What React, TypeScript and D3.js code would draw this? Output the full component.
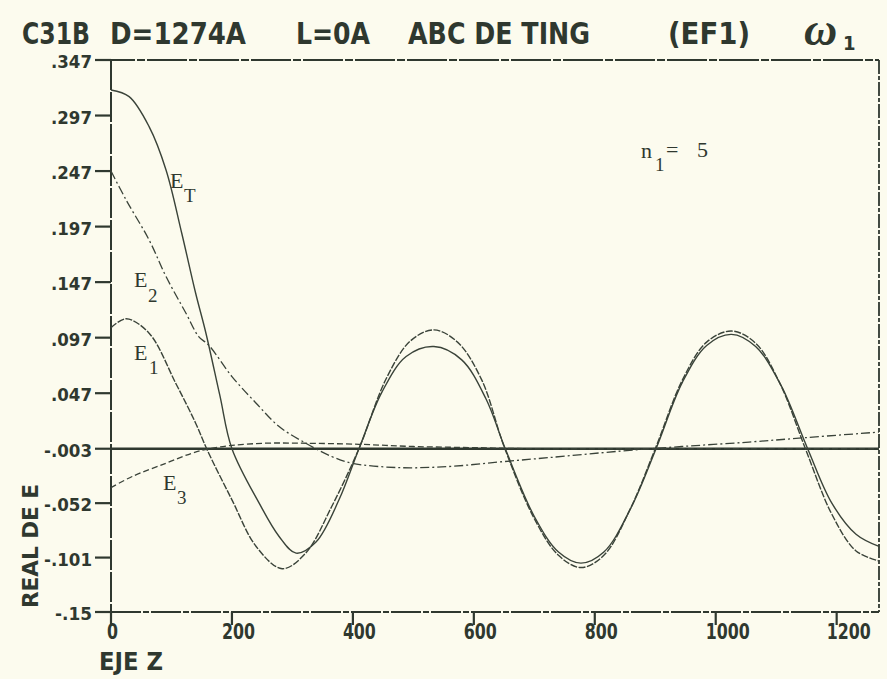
import React from "react";
import * as d3 from "d3";

// ---- data ----
const yTickValues = [0.347, 0.297, 0.247, 0.197, 0.147, 0.097, 0.047, -0.003, -0.052, -0.101, -0.15];
const yTickLabels = [".347", ".297", ".247", ".197", ".147", ".097", ".047", "-.003", "-.052", "-.101", "-.15"];
const xTickValues = [0, 200, 400, 600, 800, 1000, 1200];
const xTickLabels = ["0", "200", "400", "600", "800", "1000", "1200"];
const baselineValue = -0.003;

const eTz = [0, 30, 63, 91, 117, 140, 157, 180, 200, 245, 278, 306, 339, 377, 410, 448, 488, 534, 580, 620, 652, 700, 740, 777, 815, 860, 902, 945, 985, 1026, 1066, 1108, 1152, 1192, 1232, 1270];
const eTv = [0.320, 0.314, 0.287, 0.248, 0.191, 0.137, 0.101, 0.045, -0.003, -0.052, -0.082, -0.097, -0.087, -0.049, -0.003, 0.048, 0.080, 0.089, 0.077, 0.042, -0.003, -0.064, -0.096, -0.106, -0.096, -0.056, -0.002, 0.057, 0.090, 0.100, 0.089, 0.054, -0.003, -0.052, -0.080, -0.091];

const e1z = [0, 25, 63, 107, 140, 159, 200, 240, 283, 322, 365, 410, 455, 495, 534, 573, 613, 650, 700, 740, 777, 815, 858, 900, 945, 985, 1026, 1066, 1106, 1149, 1192, 1232, 1270];
const e1v = [0.106, 0.114, 0.101, 0.056, 0.020, -0.004, -0.049, -0.091, -0.111, -0.097, -0.055, -0.003, 0.060, 0.094, 0.104, 0.093, 0.059, -0.001, -0.066, -0.099, -0.110, -0.099, -0.058, -0.003, 0.059, 0.093, 0.103, 0.092, 0.056, -0.004, -0.062, -0.095, -0.104];

const e2z = [0, 25, 63, 91, 124, 145, 162, 200, 240, 278, 322, 365, 398, 476, 559, 641, 724, 845, 944, 1055, 1149, 1270];
const e2v = [0.247, 0.221, 0.185, 0.152, 0.119, 0.098, 0.090, 0.062, 0.038, 0.017, 0.002, -0.010, -0.016, -0.020, -0.019, -0.015, -0.011, -0.005, -0.001, 0.003, 0.007, 0.012];

const e3z = [0, 35, 91, 134, 162, 200, 256, 311, 410, 500, 600, 700, 800, 900, 1000, 1100, 1270];
const e3v = [-0.038, -0.028, -0.016, -0.007, -0.003, 0.000, 0.002, 0.002, 0.001, -0.001, -0.002, -0.003, -0.003, -0.003, -0.003, -0.003, -0.003];

const titleParts = ["C31B", "D=1274A", "L=0A", "ABC DE TING", "(EF1)"];

// ---- styling ----
const W = 887, H = 679;
const BG = "#fcfbee";
const INK = "#2f382f";
const LINE = "#3a4339";
const PLOT_FONT = "'DejaVu Sans Condensed', 'DejaVu Sans', sans-serif";
const SERIF = "'Liberation Serif', 'DejaVu Serif', serif";

export default function App() {
  const x = d3.scaleLinear().domain([0, 1270]).range([111, 879]);
  const y = d3.scaleLinear().domain([-0.15, 0.347]).range([612, 60]);
  const line = d3.line<[number, number]>().x(d => x(d[0])).y(d => y(d[1])).curve(d3.curveCatmullRom.alpha(0.5));
  const zip = (zs: number[], vs: number[]) => zs.map((z, i) => [z, vs[i]] as [number, number]);

  const series = [
    { d: zip(eTz, eTv), dash: "none", w: 1.4 },
    { d: zip(e1z, e1v), dash: "7,1.5", w: 1.4 },
    { d: zip(e2z, e2v), dash: "9,3,2,3", w: 1.3 },
    { d: zip(e3z, e3v), dash: "6,3", w: 1.3 },
  ];

  const titleLayout = [
    { x: 22, w: 68 },
    { x: 110, w: 136 },
    { x: 296, w: 74 },
    { x: 408, w: 182 },
    { x: 668, w: 82 },
  ];

  const x0 = x(0), x1 = x(1270), yTop = y(0.347), yBot = y(-0.15);

  return (
    <svg width={W} height={H} style={{ position: "absolute", left: 0, top: 0 }} xmlns="http://www.w3.org/2000/svg">
      <rect x={0} y={0} width={W} height={H} fill={BG} />

      {/* title */}
      <g fill={INK} fontFamily={PLOT_FONT} fontWeight="bold" fontSize={31}>
        {titleParts.map((t, i) => (
          <text key={t} x={titleLayout[i].x} y={44} textLength={titleLayout[i].w} lengthAdjust="spacingAndGlyphs">{t}</text>
        ))}
        <text x={804} y={45} fontFamily={SERIF} fontStyle="italic" fontWeight="bold" fontSize={46}>ω</text>
        <text x={843} y={50} fontSize={20}>1</text>
      </g>

      {/* frame */}
      <g stroke={INK} fill="none">
        <line x1={95} x2={x1} y1={yTop} y2={yTop} strokeWidth={2.2} strokeDasharray="40,2,8,2" />
        <line x1={x0} x2={x0} y1={yTop} y2={yBot} strokeWidth={2} strokeDasharray="30,2" />
        <line x1={x1} x2={x1} y1={yTop} y2={yBot} strokeWidth={1.8} strokeDasharray="14,2,4,2" />
        <line x1={x0} x2={x1} y1={yBot} y2={yBot} strokeWidth={2} strokeDasharray="30,2,6,2" />
      </g>

      {/* y ticks */}
      <g>
        {yTickValues.map((v, i) => (
          <g key={v}>
            <line x1={95} x2={x0} y1={y(v)} y2={y(v)} stroke={INK} strokeWidth={2.2} />
            <text x={92} y={y(v) + 8} textAnchor="end" fill={INK} fontFamily={PLOT_FONT} fontWeight="bold" fontSize={18}
              textLength={yTickLabels[i].replace(/[.\-]/g, "").length * 11 + (yTickLabels[i].includes("-") ? 15 : 8)} lengthAdjust="spacingAndGlyphs">
              {yTickLabels[i]}
            </text>
          </g>
        ))}
      </g>

      {/* x ticks */}
      <g>
        {xTickValues.map((v, i) => (
          <g key={v}>
            <line x1={x(v)} x2={x(v)} y1={yBot} y2={yBot + 13} stroke={INK} strokeWidth={2.2} />
            <text x={x(v) - (i === 0 ? 4 : 10)} y={639} fill={INK} fontFamily={PLOT_FONT} fontWeight="bold" fontSize={22}
              textLength={xTickLabels[i].length * 11} lengthAdjust="spacingAndGlyphs">
              {xTickLabels[i]}
            </text>
          </g>
        ))}
      </g>

      {/* axis titles */}
      <text x={99} y={670} fill={INK} fontFamily={PLOT_FONT} fontWeight="bold" fontSize={25} textLength={64} lengthAdjust="spacingAndGlyphs">EJE Z</text>
      <text transform="translate(38,608) rotate(-90)" fill={INK} fontFamily={PLOT_FONT} fontWeight="bold" fontSize={21} textLength={124} lengthAdjust="spacingAndGlyphs">REAL DE E</text>

      {/* baseline */}
      <line x1={x0} x2={x1} y1={y(baselineValue)} y2={y(baselineValue)} stroke={INK} strokeWidth={2.4} />

      {/* curves */}
      <g fill="none" stroke={LINE} strokeLinejoin="round">
        {series.map((s, i) => (
          <path key={i} d={line(s.d) || ""} strokeWidth={s.w} strokeDasharray={s.dash} />
        ))}
      </g>

      {/* curve labels */}
      <g fill={INK} fontFamily={SERIF}>
        <text x={170} y={188} fontSize={22}>E</text>
        <text x={184} y={202} fontSize={19}>T</text>
        <text x={134} y={287} fontSize={22}>E</text>
        <text x={148} y={302} fontSize={19}>2</text>
        <text x={134} y={360} fontSize={22}>E</text>
        <text x={149} y={374} fontSize={19}>1</text>
        <text x={163} y={490} fontSize={22}>E</text>
        <text x={177} y={504} fontSize={19}>3</text>
        <text x={641} y={158} fontSize={22}>n</text>
        <text x={655} y={171} fontSize={19}>1</text>
        <text x={666} y={157} fontSize={22}>=</text>
        <text x={697} y={157} fontSize={22}>5</text>
      </g>
    </svg>
  );
}
